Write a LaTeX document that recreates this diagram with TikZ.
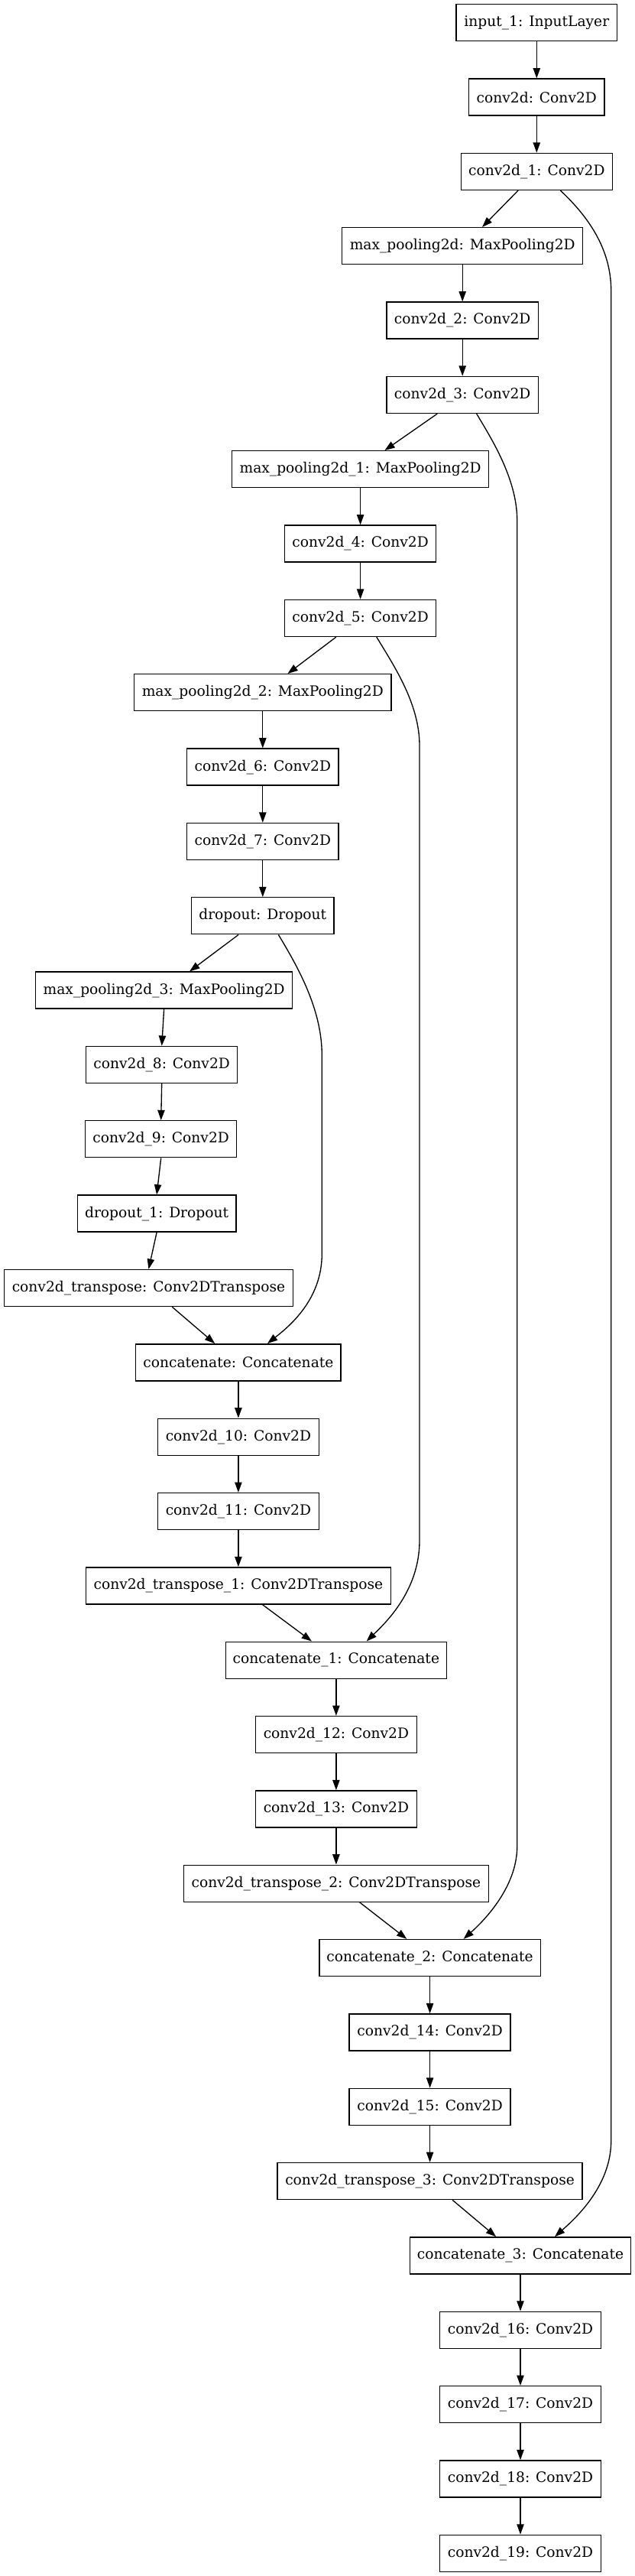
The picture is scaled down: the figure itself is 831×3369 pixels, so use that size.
\documentclass[tikz,border=0pt]{standalone}
\usepackage{fontspec}
\newfontfamily\gvfont{DejaVu Serif}
\usetikzlibrary{arrows.meta,calc}
\begin{document}
\begin{tikzpicture}[x=0.75pt,y=-0.75pt,
  lay/.style={draw=black,line width=1pt,minimum height=36pt,inner sep=0pt,
    minimum width={#1*0.75pt},font=\gvfont\fontsize{14}{16}\selectfont},
  ed/.style={-{Triangle[length=10pt,width=7pt]},line width=1pt}]
\path[use as bounding box] (0,0) rectangle (831,3369);
% encoder
\node[lay=210.4] (in1) at (702.3,29.7) {input\_1: InputLayer};
\node[lay=177.5] (c0) at (702.3,127.04) {conv2d: Conv2D};
\node[lay=198.2] (c1) at (702.3,224.38) {conv2d\_1: Conv2D};
\node[lay=314.8] (mp0) at (605.2,321.72) {max\_pooling2d: MaxPooling2D};
\node[lay=198.2] (c2) at (605.2,419.06) {conv2d\_2: Conv2D};
\node[lay=198.2] (c3) at (605.2,516.4) {conv2d\_3: Conv2D};
\node[lay=336.3] (mp1) at (471.6,613.74) {max\_pooling2d\_1: MaxPooling2D};
\node[lay=198.2] (c4) at (471.6,711.08) {conv2d\_4: Conv2D};
\node[lay=198.2] (c5) at (471.6,808.42) {conv2d\_5: Conv2D};
\node[lay=336.3] (mp2) at (343.8,905.76) {max\_pooling2d\_2: MaxPooling2D};
\node[lay=198.2] (c6) at (343.8,1003.1) {conv2d\_6: Conv2D};
\node[lay=198.2] (c7) at (343.8,1100.44) {conv2d\_7: Conv2D};
\node[lay=186.5] (drop) at (343.8,1197.78) {dropout: Dropout};
\node[lay=336.3] (mp3) at (214.6,1295.12) {max\_pooling2d\_3: MaxPooling2D};
\node[lay=198.2] (c8) at (211.7,1392.46) {conv2d\_8: Conv2D};
\node[lay=198.2] (c9) at (210.7,1489.8) {conv2d\_9: Conv2D};
\node[lay=207.7] (drop1) at (205.1,1587.14) {dropout\_1: Dropout};
% decoder
\node[lay=378.4] (ct0) at (194.5,1684.48) {conv2d\_transpose: Conv2DTranspose};
\node[lay=268.2] (cat0) at (311.9,1781.82) {concatenate: Concatenate};
\node[lay=210.9] (c10) at (311.9,1879.16) {conv2d\_10: Conv2D};
\node[lay=210.9] (c11) at (311.9,1976.5) {conv2d\_11: Conv2D};
\node[lay=399] (ct1) at (311.9,2073.84) {conv2d\_transpose\_1: Conv2DTranspose};
\node[lay=289.3] (cat1) at (439.9,2171.18) {concatenate\_1: Concatenate};
\node[lay=210.9] (c12) at (439.9,2268.52) {conv2d\_12: Conv2D};
\node[lay=210.9] (c13) at (439.9,2365.86) {conv2d\_13: Conv2D};
\node[lay=399] (ct2) at (439.9,2463.2) {conv2d\_transpose\_2: Conv2DTranspose};
\node[lay=289.3] (cat2) at (562.6,2560.54) {concatenate\_2: Concatenate};
\node[lay=210.9] (c14) at (562.6,2657.88) {conv2d\_14: Conv2D};
\node[lay=210.9] (c15) at (562.6,2755.22) {conv2d\_15: Conv2D};
\node[lay=399] (ct3) at (562.6,2852.56) {conv2d\_transpose\_3: Conv2DTranspose};
\node[lay=289.3] (cat3) at (681,2949.9) {concatenate\_3: Concatenate};
\node[lay=210.9] (c16) at (681,3047.24) {conv2d\_16: Conv2D};
\node[lay=210.9] (c17) at (681,3144.58) {conv2d\_17: Conv2D};
\node[lay=210.9] (c18) at (681,3241.92) {conv2d\_18: Conv2D};
\node[lay=210.9] (c19) at (681,3339.26) {conv2d\_19: Conv2D};
% straight chain edges
\draw[ed] (in1.south) -- (c0.north);
\draw[ed] (c0.south) -- (c1.north);
\draw[ed] (mp0.south) -- (c2.north);
\draw[ed] (c2.south) -- (c3.north);
\draw[ed] (mp1.south) -- (c4.north);
\draw[ed] (c4.south) -- (c5.north);
\draw[ed] (mp2.south) -- (c6.north);
\draw[ed] (c6.south) -- (c7.north);
\draw[ed] (c7.south) -- (drop.north);
\draw[ed] (mp3.south) -- (c8.north);
\draw[ed] (c8.south) -- (c9.north);
\draw[ed] (c9.south) -- (drop1.north);
\draw[ed] (drop1.south) -- (ct0.north);
\draw[ed] (cat0.south) -- (c10.north);
\draw[ed] (c10.south) -- (c11.north);
\draw[ed] (c11.south) -- (ct1.north);
\draw[ed] (cat1.south) -- (c12.north);
\draw[ed] (c12.south) -- (c13.north);
\draw[ed] (c13.south) -- (ct2.north);
\draw[ed] (cat2.south) -- (c14.north);
\draw[ed] (c14.south) -- (c15.north);
\draw[ed] (c15.south) -- (ct3.north);
\draw[ed] (cat3.south) -- (c16.north);
\draw[ed] (c16.south) -- (c17.north);
\draw[ed] (c17.south) -- (c18.north);
\draw[ed] (c18.south) -- (c19.north);
% diagonal edges
\draw[ed] ($(c1.south)+(-24.2,0)$) -- ($(mp0.north)+(25.8,0)$);
\draw[ed] ($(c3.south)+(-32.9,0)$) -- ($(mp1.north)+(31.8,0)$);
\draw[ed] ($(c5.south)+(-31.7,0)$) -- ($(mp2.north)+(32.6,0)$);
\draw[ed] ($(drop.south)+(-31.7,0)$) -- ($(mp3.north)+(33.4,0)$);
\draw[ed] ($(ct0.south)+(30.7,0)$) -- ($(cat0.north)+(-30.7,0)$);
\draw[ed] ($(ct1.south)+(31.5,0)$) -- ($(cat1.north)+(-31.9,0)$);
\draw[ed] ($(ct2.south)+(30.7,0)$) -- ($(cat2.north)+(-30.2,0)$);
\draw[ed] ($(ct3.south)+(29.5,0)$) -- ($(cat3.north)+(-31.8,0)$);
% skip connections
\draw[ed] ($(c1.south)+(31,0)$) .. controls (763,277) and (799.7,320) .. (799.7,380)
  -- (799.7,2800) .. controls (799.7,2860) and (751,2903) .. ($(cat3.north)+(45,0)$);
\draw[ed] ($(c3.south)+(18.5,0)$) .. controls (640.7,570) and (676.7,625) .. (676.7,680)
  -- (676.7,2415) .. controls (676.7,2470) and (630,2515) .. ($(cat2.north)+(44,0)$);
\draw[ed] ($(c5.south)+(21.2,0)$) .. controls (515,870) and (549,920) .. (549,975)
  -- (549,2015) .. controls (549,2080) and (505,2122) .. ($(cat1.north)+(39.7,0)$);
\draw[ed] ($(drop.south)+(20.6,0)$) .. controls (390,1265) and (421.3,1320) .. (421.3,1380)
  -- (421.3,1640) .. controls (421.3,1700) and (378,1735) .. ($(cat0.north)+(38,0)$);
\end{tikzpicture}
\end{document}
